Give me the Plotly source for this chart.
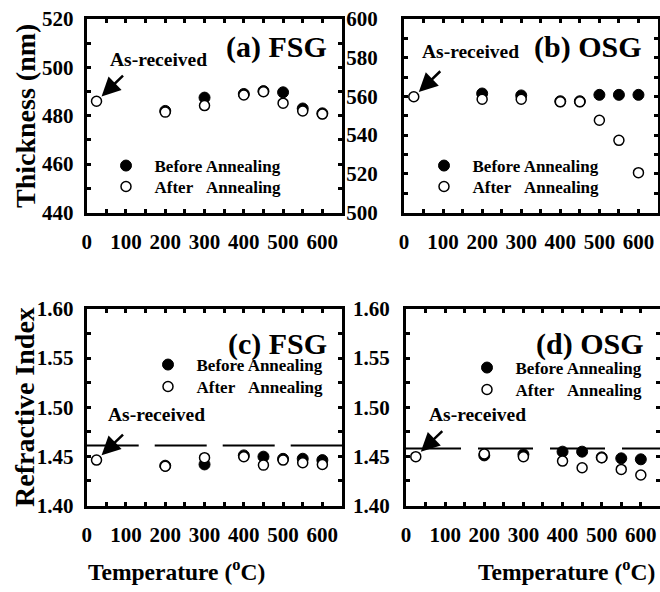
import plotly.graph_objects as go

W, H = 660, 592

# ---------------- data ----------------
asrec_T = [25]
anneal_T = [200, 300, 400, 450, 500, 550, 600]

fsg_thk_asrec = [486.0]
fsg_thk_before = [482.0, 487.5, 489.0, 490.2, 489.7, 483.0, 481.0]
fsg_thk_after = [481.5, 484.2, 488.6, 489.9, 485.2, 482.0, 480.7]

osg_thk_asrec = [559.8]
osg_thk_before = [561.5, 560.5, 557.5, 557.5, 560.8, 560.8, 560.8]
osg_thk_after = [558.5, 558.5, 557.2, 557.2, 547.7, 537.3, 520.6]

fsg_ri_asrec = [1.4462]
fsg_ri_before = [1.4405, 1.4418, 1.4510, 1.4497, 1.4475, 1.4476, 1.4462]
fsg_ri_after = [1.4400, 1.4487, 1.4497, 1.4411, 1.4462, 1.4435, 1.4418]

osg_ri_asrec = [1.4497]
osg_ri_before = [1.4510, 1.4520, 1.4548, 1.4548, 1.4490, 1.4480, 1.4470]
osg_ri_after = [1.4525, 1.4497, 1.4452, 1.4384, 1.4487, 1.4367, 1.4310]

ref_T = [0, 650]
fsg_ri_ref = 1.461
osg_ri_ref = 1.458

x_ticks = [0, 100, 200, 300, 400, 500, 600]
thk_fsg_ticks = [440, 460, 480, 500, 520]
thk_osg_ticks = [500, 520, 540, 560, 580, 600]
ri_ticks = [1.40, 1.45, 1.50, 1.55, 1.60]

legend_names = ["Before Annealing", "After\u00a0\u00a0\u00a0Annealing"]

FONT = "Liberation Serif"


def px(x):
    return x / W


def py(y):
    return 1 - y / H


fig = go.Figure()

panels = [
    # xaxis, yaxis, legend(before), legend(after), asrec, before, after, ref, dash
    ("x", "y", "legend", "legend5", fsg_thk_asrec, fsg_thk_before, fsg_thk_after, None, None),
    ("x2", "y2", "legend2", "legend6", osg_thk_asrec, osg_thk_before, osg_thk_after, None, None),
    ("x3", "y3", "legend3", "legend7", fsg_ri_asrec, fsg_ri_before, fsg_ri_after, fsg_ri_ref, "52px,16px"),
    ("x4", "y4", "legend4", "legend8", osg_ri_asrec, osg_ri_before, osg_ri_after, osg_ri_ref, "55px,17px"),
]

for xa, ya, lgb, lga, asrec, before, after, ref, dash in panels:
    if ref is not None:
        fig.add_trace(go.Scatter(
            x=ref_T, y=[ref, ref], mode="lines", xaxis=xa, yaxis=ya,
            line=dict(color="black", width=2, dash=dash), showlegend=False,
            hoverinfo="skip"))
    fig.add_trace(go.Scatter(
        x=anneal_T, y=before, mode="markers", xaxis=xa, yaxis=ya,
        name="\u00a0\u00a0" + legend_names[0], legend=lgb,
        marker=dict(symbol="circle", size=11, color="black",
                    line=dict(color="black", width=1))))
    fig.add_trace(go.Scatter(
        x=asrec_T + anneal_T, y=asrec + after, mode="markers", xaxis=xa, yaxis=ya,
        name="\u00a0\u00a0" + legend_names[1], legend=lga,
        marker=dict(symbol="circle", size=10, color="white",
                    line=dict(color="black", width=1.5))))

tickfont = dict(family=FONT, size=21, color="black", weight="bold")


def xaxis(dom, anchor, rng=(0, 650)):
    return dict(domain=dom, anchor=anchor, range=list(rng), tickvals=x_ticks,
                ticks="inside", ticklen=4, tickwidth=3, tickcolor="black",
                showline=True, linewidth=3, linecolor="black", mirror="ticks",
                showgrid=False, zeroline=False, tickfont=tickfont,
                ticklabelstandoff=8, automargin=False,
                minor=dict(dtick=50, ticks="inside", ticklen=4, tickwidth=3,
                           tickcolor="black", showgrid=False))


def yaxis(dom, anchor, rng, ticks, minor, fmt=None, standoff=6):
    d = dict(domain=dom, anchor=anchor, range=list(rng), tickvals=ticks,
             ticks="inside", ticklen=4, tickwidth=3, tickcolor="black",
             showline=True, linewidth=3, linecolor="black", mirror="ticks",
             showgrid=False, zeroline=False, tickfont=tickfont,
             ticklabelstandoff=standoff, automargin=False,
             minor=dict(dtick=minor, ticks="inside", ticklen=4, tickwidth=3,
                        tickcolor="black", showgrid=False))
    if fmt:
        d["tickformat"] = fmt
    return d


top_dom = [py(212.5), py(19)]
bot_dom = [py(505.5), py(309)]

legfont = dict(family=FONT, size=17, color="black", weight="bold")


def legend(xpix, ycenter):
    # ycenter: wanted centre of the single legend row, in pixels from the top
    return dict(x=px(xpix), y=py(ycenter), xanchor="left", yanchor="middle",
                xref="paper", yref="paper", bgcolor="rgba(0,0,0,0)",
                font=legfont, itemsizing="trace", traceorder="normal")


fig.update_layout(
    width=W, height=H,
    margin=dict(l=0, r=0, t=0, b=0, autoexpand=False),
    paper_bgcolor="white", plot_bgcolor="white",
    xaxis=xaxis([px(86.7), px(342)], "y"),
    yaxis=yaxis(top_dom, "x", (440, 520), thk_fsg_ticks, 10, standoff=6),
    xaxis2=xaxis([px(404), px(658)], "y2"),
    yaxis2=yaxis(top_dom, "x2", (500, 600), thk_osg_ticks, 10, standoff=19),
    xaxis3=xaxis([px(86.7), px(342)], "y3"),
    yaxis3=yaxis(bot_dom, "x3", (1.40, 1.60), ri_ticks, 0.025, ".2f", standoff=6),
    xaxis4=xaxis([px(406), 1.0], "y4", (0, 649)),
    yaxis4=yaxis(bot_dom, "x4", (1.40, 1.60), ri_ticks, 0.025, ".2f", standoff=9),
    showlegend=True,
    legend=legend(106, 166),
    legend5=legend(106, 187),
    legend2=legend(424, 166),
    legend6=legend(424, 187),
    legend3=legend(148, 365),
    legend7=legend(148, 387),
    legend4=legend(467, 368),
    legend8=legend(467, 390),
)

ann = []


def text(x, y, s, size, angle=0, xanchor="center"):
    ann.append(dict(x=px(x), y=py(y), xref="paper", yref="paper", text=s,
                    showarrow=False, textangle=angle, xanchor=xanchor,
                    yanchor="middle",
                    font=dict(family=FONT, size=size, color="black", weight="bold")))


text(329, 47, "(a) FSG", 30, xanchor="right")
text(644, 47, "(b) OSG", 30, xanchor="right")
text(329, 344, "(c) FSG", 30, xanchor="right")
text(646, 344, "(d) OSG", 30, xanchor="right")

text(158, 60, "As-received", 19.5)
text(470, 52, "As-received", 19.5)
text(156, 414, "As-received", 19.5)
text(477, 414, "As-received", 19.5)

text(25, 116, "Thickness (nm)", 28, angle=-90)
text(24, 407, "Refractive Index", 28, angle=-90)
text(176, 570, "Temperature (<sup>o</sup>C)", 23.5)
text(566, 570, "Temperature (<sup>o</sup>C)", 23.5)

# arrows pointing at the as-received points
for xa, ya, val in [("x", "y", fsg_thk_asrec[0]), ("x2", "y2", osg_thk_asrec[0]),
                    ("x3", "y3", fsg_ri_asrec[0]), ("x4", "y4", osg_ri_asrec[0])]:
    ann.append(dict(x=asrec_T[0], y=val, xref=xa, yref=ya, text="",
                    showarrow=True, ax=28, ay=-27, axref="pixel", ayref="pixel",
                    arrowhead=2, arrowsize=1.5, arrowwidth=2.5, arrowcolor="black",
                    standoff=7))

fig.update_layout(annotations=ann)

# remove the default page margin so the 660x592 figure fills the window exactly
fig.write_html(
    "out.html",
    config=dict(displayModeBar=False),
    post_script="document.body.style.margin='0';document.body.style.overflow='hidden';",
)
